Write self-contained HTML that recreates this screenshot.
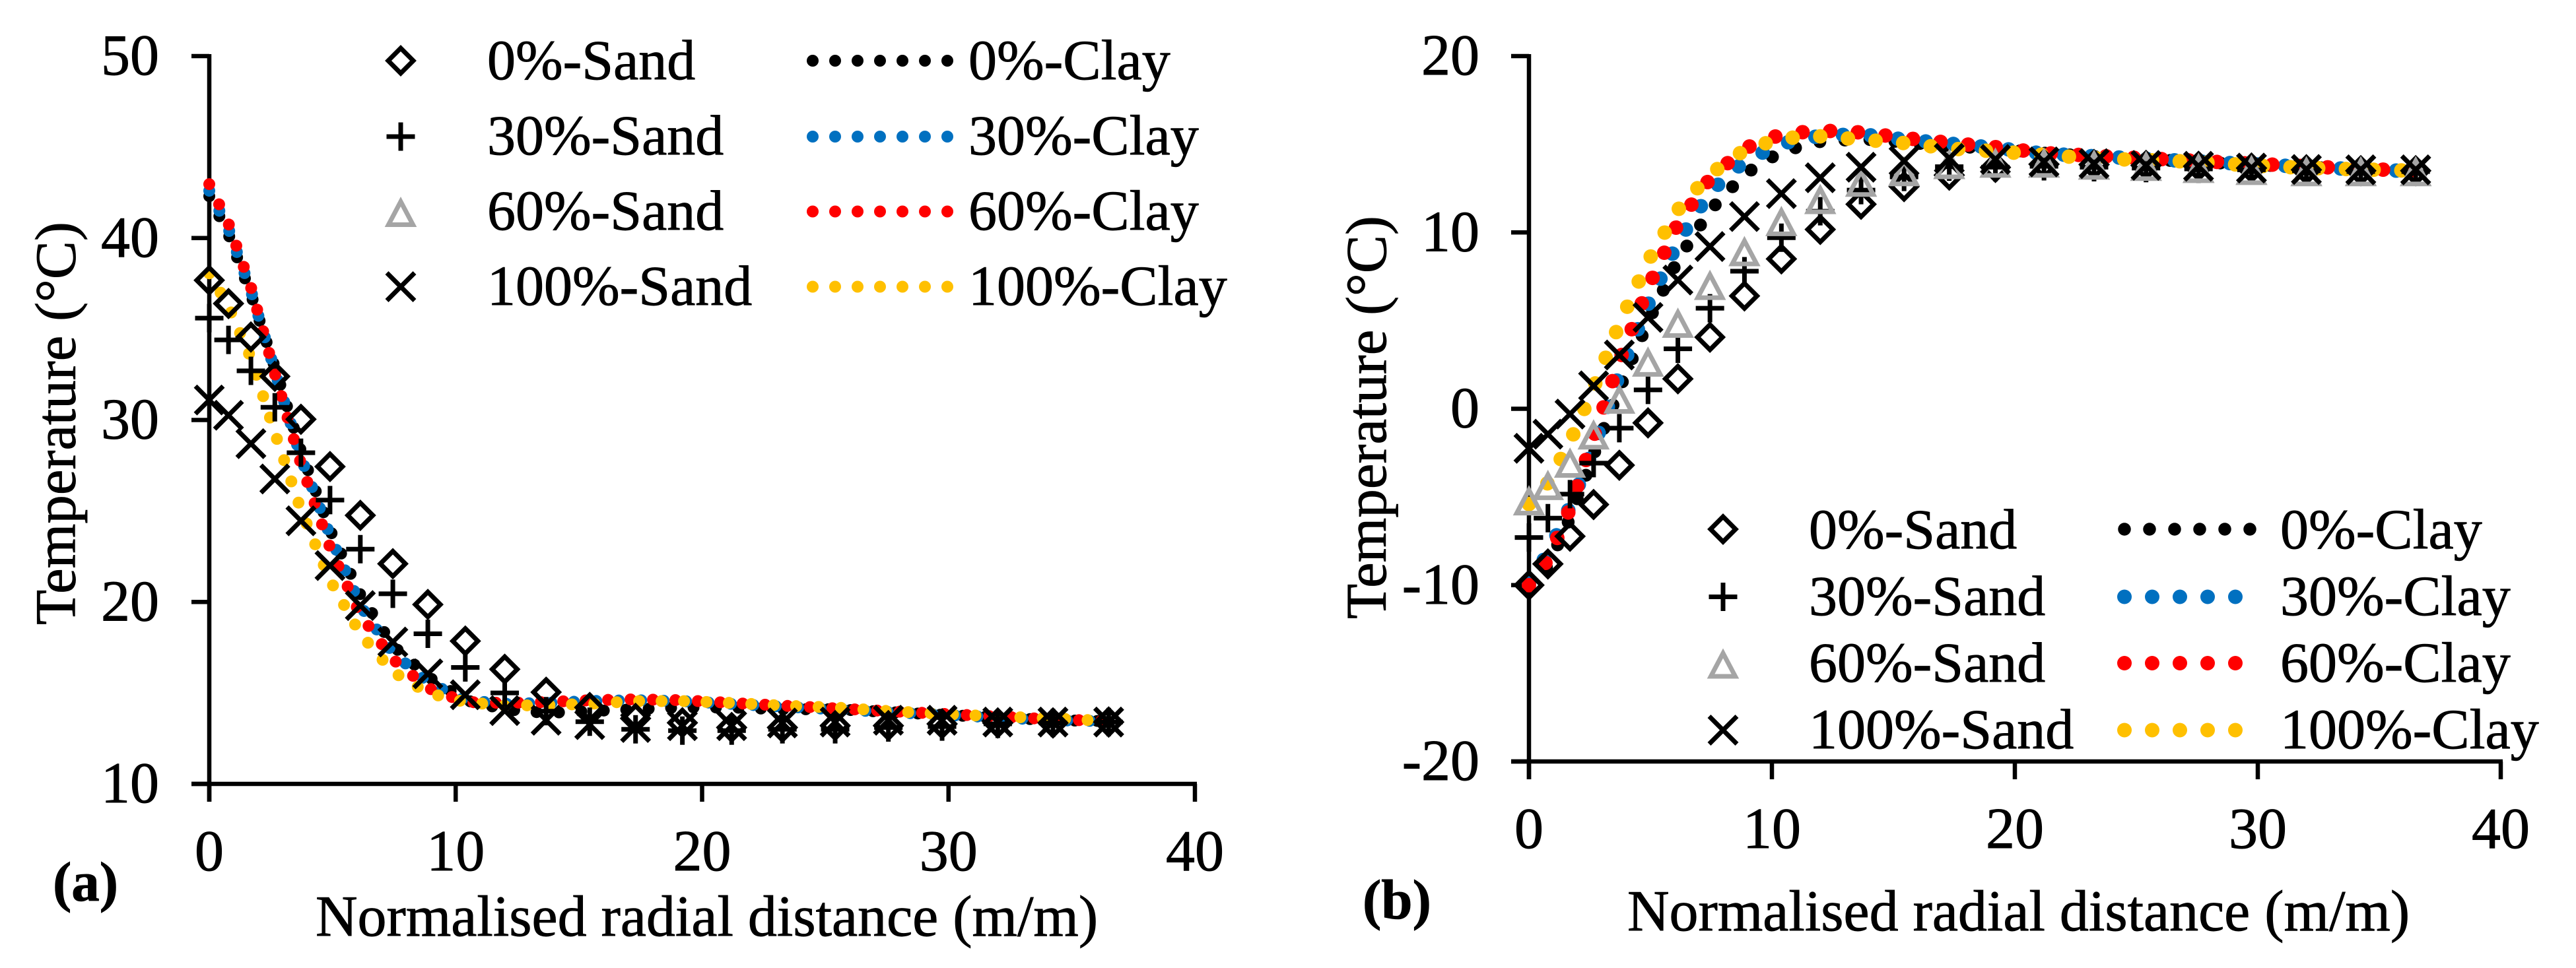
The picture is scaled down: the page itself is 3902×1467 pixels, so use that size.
<!DOCTYPE html>
<html lang="en">
<head>
<meta charset="utf-8">
<title>Temperature vs normalised radial distance</title>
<style>
html,body{margin:0;padding:0;background:#fff;width:3902px;height:1467px;overflow:hidden}
svg{display:block}
text{font-family:"Liberation Serif","Times New Roman",serif;fill:#000;stroke:#000;stroke-width:0.9px}
.tick{font-size:88px}
.leg{font-size:86px}
.xt{font-size:88px}
.yt{font-size:87px}
.pl{font-size:85px;font-weight:bold}
</style>
</head>
<body>
<svg id="chart" xmlns="http://www.w3.org/2000/svg" width="3902" height="1467" viewBox="0 0 3902 1467">
  <rect x="0" y="0" width="3902" height="1467" fill="#ffffff"/>
  <g id="panelA"></g>
  <g id="panelB"></g>

  <text class="yt" transform="translate(113.5,947) rotate(-90)">Temperature (°C)</text>
  <text class="xt" x="478" y="1418">Normalised radial distance (m/m)</text>
  <text class="pl" x="80" y="1365">(a)</text>

  <text class="yt" transform="translate(2099,938) rotate(-90)">Temperature (°C)</text>
  <text class="xt" x="2465" y="1410">Normalised radial distance (m/m)</text>
  <text class="pl" x="2064" y="1392">(b)</text>

  <g>
    <text class="leg" x="738" y="120">0%-Sand</text>
    <text class="leg" x="738" y="234">30%-Sand</text>
    <text class="leg" x="738" y="348">60%-Sand</text>
    <text class="leg" x="738" y="462">100%-Sand</text>
    <text class="leg" x="1467" y="120">0%-Clay</text>
    <text class="leg" x="1467" y="234">30%-Clay</text>
    <text class="leg" x="1467" y="348">60%-Clay</text>
    <text class="leg" x="1467" y="462">100%-Clay</text>
  </g>
  <g>
    <text class="leg" x="2740" y="831">0%-Sand</text>
    <text class="leg" x="2740" y="932">30%-Sand</text>
    <text class="leg" x="2740" y="1033">60%-Sand</text>
    <text class="leg" x="2740" y="1134">100%-Sand</text>
    <text class="leg" x="3454" y="831">0%-Clay</text>
    <text class="leg" x="3454" y="932">30%-Clay</text>
    <text class="leg" x="3454" y="1033">60%-Clay</text>
    <text class="leg" x="3454" y="1134">100%-Clay</text>
  </g>
</svg>
<script>
// ---- shared category axis: normalised radial distance (m/m)
var radialDistance = [0,0.78,1.69,2.66,3.72,4.9,6.13,7.45,8.87,10.39,11.99,13.67,15.44,17.3,19.2,21.2,23.26,25.4,27.56,29.74,32,34.24,36.5];

// ---- tick labels
var xTicks = [0,10,20,30,40];
var yTicksA = [10,20,30,40,50];
var yTicksB = [-20,-10,0,10,20];

// ---- panel (a) series, temperature in deg C
var aSand0   = [37.68,36.4,34.56,32.4,30.04,27.44,24.76,22.1,19.86,17.85,16.3,15.04,14.2,13.6,13.36,13.1,13.1,13.2,13.2,13.3,13.35,13.35,13.4];
var aSand30  = [35.6,34.4,32.7,30.7,28.2,25.6,22.9,20.45,18.25,16.4,15,14,13.42,13,12.93,12.93,13,13,13.1,13.15,13.3,13.35,13.4];
var aSand60  = []; // no triangles are visible in panel (a); only the legend key is drawn
var aSand100 = [31.1,30.26,28.7,26.76,24.46,22,19.8,17.8,16.05,14.9,14.03,13.5,13.26,13.1,13.2,13.2,13.35,13.4,13.5,13.5,13.4,13.4,13.4];
var aClay0   = [42.3,40.2,36.9,32.9,28.3,23.96,20.4,17.6,15.9,14.6,14.1,13.9,14,14.1,14.2,14.2,14.1,14.1,13.95,13.8,13.65,13.5,13.45];
var aClay30  = [42.6,40.5,37.1,32.7,27.95,23.66,19.8,17.2,15.6,14.6,14.4,14.45,14.55,14.6,14.55,14.4,14.25,14.1,13.95,13.8,13.65,13.5,13.45];
var aClay60  = [42.96,40.8,37.3,32.55,27.6,23,19.3,16.85,15.27,14.5,14.45,14.5,14.6,14.65,14.6,14.45,14.3,14.15,14,13.85,13.7,13.55,13.45];
var aClay100 = [38.06,36.25,33.4,29.3,25.07,21.2,18.25,16.16,15,14.5,14.3,14.33,14.4,14.55,14.55,14.45,14.3,14.2,14,13.85,13.7,13.6,13.45];

// ---- panel (b) series, temperature in deg C
var bSand0   = [-10,-8.8,-7.23,-5.43,-3.2,-0.8,1.7,4.06,6.4,8.5,10.17,11.6,12.6,13.25,13.69,13.87,13.85,13.8,13.75,13.65,13.55,13.5,13.5];
var bSand30  = [-7.3,-6.2,-4.84,-3.08,-1.1,1.07,3.4,5.7,7.8,9.7,11.2,12.4,13.15,13.73,13.7,13.75,13.7,13.65,13.6,13.55,13.5,13.45,13.45];
var bSand60  = [-5.17,-4.3,-3.03,-1.43,0.6,2.7,4.9,7.05,8.96,10.67,11.92,12.9,13.5,13.9,13.98,13.98,13.87,13.8,13.68,13.57,13.5,13.5,13.5];
var bSand100 = [-2.24,-1.44,-0.3,1.3,3.05,5.18,7.3,9.2,10.9,12.2,13.1,13.7,14.05,14.2,14.14,14,13.9,13.8,13.75,13.65,13.57,13.55,13.55];
var bClay0   = [-10,-8.9,-6.2,-2.6,1.13,4.92,8.45,11.25,13.3,14.6,15.15,15.3,15.13,14.9,14.75,14.5,14.3,14.15,14,13.85,13.7,13.6,13.5];
var bClay30  = [-9.9,-8.2,-5.55,-2.2,1.98,5.9,9.45,12.3,14.03,15.04,15.48,15.57,15.27,15.04,14.8,14.47,14.32,14.17,14.02,13.87,13.72,13.57,13.47];
var bClay60  = [-10,-8.55,-5.65,-1.6,2.72,6.87,10.5,13.05,14.76,15.57,15.78,15.67,15.36,15.08,14.84,14.5,14.35,14.2,14.05,13.9,13.75,13.6,13.5];
var bClay100 = [-5.4,-4.2,-1.87,1.2,4.8,8.37,11.28,13.3,14.67,15.34,15.45,15.27,15.07,14.76,14.6,14.4,14.2,14.1,14,13.8,13.66,13.57,13.5];

var SVG_NS = 'http://www.w3.org/2000/svg';
var INK = '#000000', GREY = '#A5A5A5';
var CLAY_BLACK = '#000000', CLAY_BLUE = '#0070C0', CLAY_RED = '#FF0000', CLAY_YELLOW = '#FFC000';

function node(parent, tag, attrs) {
  var el = document.createElementNS(SVG_NS, tag);
  for (var k in attrs) el.setAttribute(k, attrs[k]);
  parent.appendChild(el);
  return el;
}

function linearScale(d0, d1, r0, r1) {
  return function (v) { return r0 + (v - d0) * (r1 - r0) / (d1 - d0); };
}

function markerPath(kind, cx, cy) {
  if (kind === 'diamond') {
    var h = 19;
    return 'M' + cx + ' ' + (cy - h) + 'L' + (cx + h) + ' ' + cy + 'L' + cx + ' ' + (cy + h) + 'L' + (cx - h) + ' ' + cy + 'Z';
  }
  if (kind === 'plus') {
    var p = 21.5;
    return 'M' + (cx - p) + ' ' + cy + 'H' + (cx + p) + 'M' + cx + ' ' + (cy - p) + 'V' + (cy + p);
  }
  if (kind === 'triangle') {
    return 'M' + cx + ' ' + (cy - 15) + 'L' + (cx + 18.5) + ' ' + (cy + 20) + 'L' + (cx - 18.5) + ' ' + (cy + 20) + 'Z';
  }
  var c = 21;
  return 'M' + (cx - c) + ' ' + (cy - c) + 'L' + (cx + c) + ' ' + (cy + c) + 'M' + (cx + c) + ' ' + (cy - c) + 'L' + (cx - c) + ' ' + (cy + c);
}

function drawMarker(parent, kind, color, cx, cy, name) {
  var el = node(parent, 'path', {
    d: markerPath(kind, cx, cy), fill: 'none', stroke: color,
    'stroke-width': 7,
    'stroke-linejoin': 'miter', 'stroke-miterlimit': 10
  });
  
  
  return el;
}

function drawDotted(parent, points, color, width, pitch, name) {
  var el = node(parent, 'polyline', {
    points: points.join(' '), fill: 'none', stroke: color,
    'stroke-width': width, 'stroke-linecap': 'round', 'stroke-linejoin': 'round',
    'stroke-dasharray': '0 ' + pitch
  });
  
  
  return el;
}

function drawAxes(parent, xs, ys, xTickValues, yTickValues, key, labelRight, xLabelBase, tickLeft, tickBottom) {
  var yTop = ys(yTickValues[yTickValues.length - 1]);
  var yBottom = ys(yTickValues[0]);
  var x0 = xs(xTickValues[0]);
  var xEnd = xs(xTickValues[xTickValues.length - 1]);

  var yLine = node(parent, 'line', {x1: x0, y1: yTop - 3, x2: x0, y2: tickBottom, stroke: INK, 'stroke-width': 6.5});
  
  

  var xLine = node(parent, 'line', {x1: tickLeft, y1: yBottom, x2: xEnd + 3, y2: yBottom, stroke: INK, 'stroke-width': 6.5});
  
  

  yTickValues.forEach(function (v) {
    var tick = node(parent, 'line', {x1: tickLeft, y1: ys(v), x2: x0, y2: ys(v), stroke: INK, 'stroke-width': 6.5});
    
    
    var label = node(parent, 'text', {x: labelRight, y: ys(v) + 28, 'text-anchor': 'end', 'class': 'tick'});
    label.textContent = String(v);
    
    
  });

  xTickValues.forEach(function (v) {
    var tick = node(parent, 'line', {x1: xs(v), y1: yBottom, x2: xs(v), y2: tickBottom, stroke: INK, 'stroke-width': 6.5});
    
    
    var label = node(parent, 'text', {x: xs(v), y: xLabelBase, 'text-anchor': 'middle', 'class': 'tick'});
    label.textContent = String(v);
    
    
  });
}

function drawClay(parent, values, xs, ys, color, width, pitch, name) {
  var pts = values.map(function (v, i) { return xs(radialDistance[i]).toFixed(1) + ',' + ys(v).toFixed(1); });
  return drawDotted(parent, pts, color, width, pitch, name);
}

function drawSand(parent, values, xs, ys, kind, color, name) {
  var g = node(parent, 'g', {});
  
  
  values.forEach(function (v, i) {
    drawMarker(g, kind, color, xs(radialDistance[i]), ys(v), name + '-point');
  });
}

function drawLegendKeys(parent, key, sandX, rowY, lineStart, lineLen, styles) {
  var kinds = ['diamond', 'plus', 'triangle', 'cross'];
  var colors = [INK, INK, GREY, INK];
  var sands = ['sand-0', 'sand-30', 'sand-60', 'sand-100'];
  var clays = ['clay-0', 'clay-30', 'clay-60', 'clay-100'];
  rowY.forEach(function (y, i) {
    drawMarker(parent, kinds[i], colors[i], sandX, y, 'legend-marker-' + key + '-' + sands[i]);
    var st = styles[i];
    drawDotted(parent, [lineStart + ',' + y, (lineStart + lineLen) + ',' + y], st[0], st[1], st[2], 'legend-line-' + key + '-' + clays[i]);
  });
}

// ---- panel (a)
var panelA = document.getElementById('panelA');
var xA = linearScale(0, 40, 317, 1810);
var yA = linearScale(10, 50, 1188, 85);
drawAxes(panelA, xA, yA, xTicks, yTicksA, 'a', 241, 1319, 290, 1215);
drawClay(panelA, aClay0, xA, yA, CLAY_BLACK, 18, 34, 'series-a-clay-0');
drawClay(panelA, aClay30, xA, yA, CLAY_BLUE, 18, 34, 'series-a-clay-30');
drawClay(panelA, aClay60, xA, yA, CLAY_RED, 18, 34, 'series-a-clay-60');
drawClay(panelA, aClay100, xA, yA, CLAY_YELLOW, 18, 34, 'series-a-clay-100');
drawSand(panelA, aSand0, xA, yA, 'diamond', INK, 'series-a-sand-0');
drawSand(panelA, aSand30, xA, yA, 'plus', INK, 'series-a-sand-30');
drawSand(panelA, aSand60, xA, yA, 'triangle', GREY, 'series-a-sand-60');
drawSand(panelA, aSand100, xA, yA, 'cross', INK, 'series-a-sand-100');
drawLegendKeys(panelA, 'a', 607, [92, 207, 320.5, 434.5], 1231, 205, [
  [CLAY_BLACK, 18, 34], [CLAY_BLUE, 18, 34], [CLAY_RED, 18, 34], [CLAY_YELLOW, 18, 34]
]);

// ---- panel (b)
var panelB = document.getElementById('panelB');
var xB = linearScale(0, 40, 2316, 3788);
var yB = linearScale(-20, 20, 1154, 85);
drawAxes(panelB, xB, yB, xTicks, yTicksB, 'b', 2241, 1285, 2289, 1181);
drawClay(panelB, bClay0, xB, yB, CLAY_BLACK, 19.5, 38, 'series-b-clay-0');
drawClay(panelB, bClay30, xB, yB, CLAY_BLUE, 22, 42, 'series-b-clay-30');
drawClay(panelB, bClay60, xB, yB, CLAY_RED, 22, 42, 'series-b-clay-60');
drawClay(panelB, bClay100, xB, yB, CLAY_YELLOW, 22, 42, 'series-b-clay-100');
drawSand(panelB, bSand0, xB, yB, 'diamond', INK, 'series-b-sand-0');
drawSand(panelB, bSand30, xB, yB, 'plus', INK, 'series-b-sand-30');
drawSand(panelB, bSand60, xB, yB, 'triangle', GREY, 'series-b-sand-60');
drawSand(panelB, bSand100, xB, yB, 'cross', INK, 'series-b-sand-100');
drawLegendKeys(panelB, 'b', 2610, [802, 904.5, 1005, 1106.5], 3218, 191, [
  [CLAY_BLACK, 19.5, 38], [CLAY_BLUE, 22, 42], [CLAY_RED, 22, 42], [CLAY_YELLOW, 22, 42]
]);
</script>
</body>
</html>
